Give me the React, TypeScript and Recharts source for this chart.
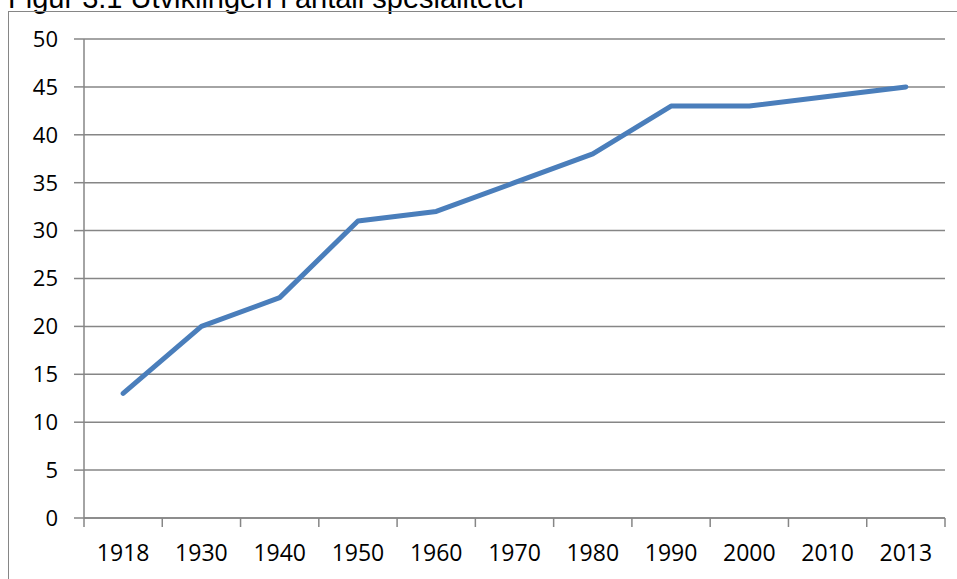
import { LineChart, Line, XAxis, YAxis, CartesianGrid } from 'recharts';

const years = ['1918', '1930', '1940', '1950', '1960', '1970', '1980', '1990', '2000', '2010', '2013'];
const specialties = [13, 20, 23, 31, 32, 35, 38, 43, 43, 44, 45];
const yTicks = [0, 5, 10, 15, 20, 25, 30, 35, 40, 45, 50];
const title = 'Figur 3.1 Utviklingen i antall spesialiteter';

const data = years.map((year, i) => ({ year, value: specialties[i] }));

const GRID = '#868686';
const FONT = '"Open Sans", sans-serif';

function YearTick(props: any) {
  const { x, y, payload, width, visibleTicksCount, index } = props;
  const bw = width / visibleTicksCount;
  const left = x - bw / 2;
  return (
    <g>
      <line x1={left} y1={y} x2={left} y2={y + 9} stroke={GRID} strokeWidth={1.5} />
      {index === visibleTicksCount - 1 && (
        <line x1={x + bw / 2} y1={y} x2={x + bw / 2} y2={y + 9} stroke={GRID} strokeWidth={1.5} />
      )}
      <text x={x} y={y + 43} textAnchor="middle" fill="#000" fontSize={23} fontFamily={FONT}>
        {payload.value}
      </text>
    </g>
  );
}

export default function App() {
  return (
    <div style={{ position: 'absolute', left: 0, top: 0, width: 957, height: 579, overflow: 'hidden', background: '#fff' }}>
      <div
        style={{
          position: 'absolute', left: 8, top: -16, fontFamily: '"Liberation Sans", Arial, sans-serif',
          fontSize: 29, lineHeight: '29px', whiteSpace: 'nowrap', color: '#000',
        }}
      >
        {title}
      </div>
      <div style={{ position: 'absolute', left: 8, top: 11, width: 1200, height: 1200, border: `1.5px solid ${GRID}` }} />
      <div style={{ position: 'absolute', left: 0, top: 0 }}>
        <LineChart width={957} height={579} data={data} margin={{ top: 39, right: 12, left: 24, bottom: 21 }}>
          <CartesianGrid vertical={false} stroke={GRID} strokeWidth={1.5} />
          <XAxis
            dataKey="year"
            scale="band"
            height={40}
            tickLine={false}
            tickSize={0}
            tickMargin={0}
            axisLine={{ stroke: GRID, strokeWidth: 1.5 }}
            tick={<YearTick />}
            interval={0}
          />
          <YAxis
            width={60}
            domain={[0, 50]}
            ticks={yTicks}
            interval={0}
            tickSize={10}
            tickMargin={16}
            tickLine={{ stroke: GRID, strokeWidth: 1.5 }}
            axisLine={{ stroke: GRID, strokeWidth: 1.5 }}
            tick={{ fill: '#000', fontSize: 22, fontFamily: FONT }}
          />
          <Line
            type="linear"
            dataKey="value"
            stroke="#4A7EBB"
            strokeWidth={5}
            strokeLinecap="round"
            strokeLinejoin="round"
            dot={false}
            activeDot={false}
            isAnimationActive={false}
          />
        </LineChart>
      </div>
    </div>
  );
}
